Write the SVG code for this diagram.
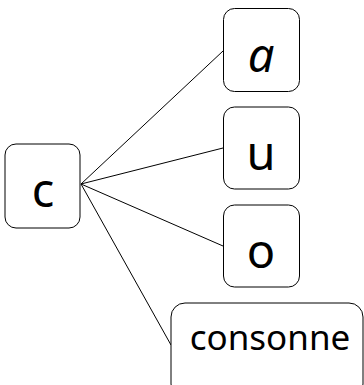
<svg xmlns="http://www.w3.org/2000/svg" width="364" height="385" viewBox="0 0 364 385">
<style>
.box{fill:#fff;stroke:#000;stroke-width:1}
.t{font-family:"Noto Sans","Open Sans",sans-serif;fill:#000;text-anchor:middle}
.big{font-size:47px}
.mid{font-size:35px}
.edge{stroke:#000;stroke-width:1;fill:none}
</style>
<rect width="364" height="385" fill="#fff"/>
<g id="connectors">
<line class="edge" x1="81" y1="184" x2="223" y2="51"/>
<line class="edge" x1="81" y1="184" x2="223" y2="148"/>
<line class="edge" x1="81" y1="184" x2="223" y2="246"/>
<line class="edge" x1="81" y1="184" x2="171" y2="345"/>
</g>
<g id="node-c">
<rect class="box" x="5" y="144" width="75" height="84" rx="11"/>
<text class="t big" x="43" y="207">c</text>
</g>
<g id="node-a">
<rect class="box" x="223.5" y="8.5" width="76" height="83" rx="11"/>
<text class="t big" x="261" y="72" font-style="italic">a</text>
</g>
<g id="node-u">
<rect class="box" x="223.5" y="107" width="76" height="82" rx="11"/>
<text class="t big" x="261" y="170">u</text>
</g>
<g id="node-o">
<rect class="box" x="223.5" y="205" width="76" height="82" rx="11"/>
<text class="t big" x="261" y="268">o</text>
</g>
<g id="node-consonne">
<rect class="box" x="171" y="303" width="192" height="95" rx="14"/>
<text class="t mid" x="270" y="350">consonne</text>
</g>
</svg>
